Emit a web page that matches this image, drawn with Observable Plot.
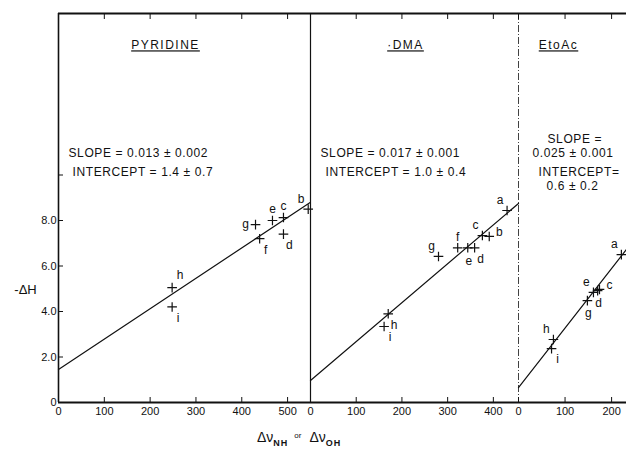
<!DOCTYPE html>
<html><head><meta charset="utf-8">
<script src="https://cdn.jsdelivr.net/npm/d3@7"></script>
<script src="https://cdn.jsdelivr.net/npm/@observablehq/plot@0.6"></script>
<style>
body{margin:0;background:#fff;}
#wrap{position:relative;width:626px;height:455px;overflow:hidden;font-family:"Liberation Sans","DejaVu Sans",sans-serif;color:#111;background:#fff;}
#wrap svg{position:absolute;top:0;}
#xtitle{position:absolute;top:429px;left:257px;font-size:14px;color:#111;white-space:nowrap;}
#xtitle sub{font-size:9px;font-weight:bold;vertical-align:-4px;letter-spacing:1px;}
#xtitle .or{font-size:8px;vertical-align:4px;margin:0 8px 0 6px;}
</style></head><body><div id="wrap"></div>
<script>
// ---- data ----
const panelNames = ["PYRIDINE", "·DMA", "EtoAc"];
const slopeTexts = [["SLOPE = 0.013 ± 0.002"], ["SLOPE = 0.017 ± 0.001"], ["SLOPE =", "0.025 ± 0.001"]];
const interceptTexts = [["INTERCEPT = 1.4 ± 0.7"], ["INTERCEPT = 1.0 ± 0.4"], ["INTERCEPT=", "0.6 ± 0.2"]];

const pyrLabels = ["b", "c", "d", "e", "f", "g", "h", "i"];
const pyrNu     = [545, 491, 491, 467, 439, 430, 248, 248];
const pyrH      = [8.5, 8.13, 7.4, 8.0, 7.2, 7.82, 5.05, 4.2];
const pyrPos    = ["nw", "n", "se", "n", "se", "w", "ne", "se"];
const pyrFitNu  = [0, 550];
const pyrFitH   = [1.45, 8.8];

const dmaLabels = ["a", "b", "c", "d", "e", "f", "g", "h", "i"];
const dmaNu     = [430, 391, 376, 359, 344, 322, 280, 170, 161];
const dmaH      = [8.44, 7.3, 7.34, 6.8, 6.8, 6.8, 6.42, 3.9, 3.34];
const dmaPos    = ["nw", "e", "nw", "se", "s", "n", "nw", "se", "se"];
const dmaFitNu  = [0, 455];
const dmaFitH   = [0.97, 8.75];

const etoLabels = ["a", "c", "d", "e", "g", "h", "i"];
const etoNu     = [221, 174, 170, 161, 148, 75, 71];
const etoH      = [6.5, 4.97, 4.92, 4.84, 4.48, 2.77, 2.37];
const etoPos    = ["nw", "e", "s", "nw", "s", "nw", "se"];
const etoFitNu  = [0, 232];
const etoFitH   = [0.65, 6.73];

const xDomains = [[0, 550], [0, 455], [0, 232]];
const xTicks = [[0, 100, 200, 300, 400, 500], [0, 100, 200, 300, 400], [0, 100, 200]];
const yDomain = [0, 17.1];
const yTicks = [0, 2, 4, 6, 8, 10];
const yTickLabels = ["0", "2.0", "4.0", "6.0", "8.0", ""];

// ---- layout ----
const ink = "#111";
const offsets = {n: [0, -11], s: [1, 13], e: [10, -4], w: [-10, 0], ne: [8, -12], nw: [-7, -10], se: [6, 11]};
const layout = [
  {left: 0, width: 310, marginLeft: 58, title: [107, 32], slope: [[10, 140]], inter: [[14, 159]]},
  {left: 310, width: 208, marginLeft: 0, title: [95, 32], slope: [[10, 140]], inter: [[15, 159]]},
  {left: 518, width: 108, marginLeft: 0, title: [40, 32], slope: [[29, 126], [14, 140]], inter: [[20, 159], [28, 173]]}
];

const sets = [
  {labels: pyrLabels, nu: pyrNu, h: pyrH, pos: pyrPos, fitNu: pyrFitNu, fitH: pyrFitH},
  {labels: dmaLabels, nu: dmaNu, h: dmaH, pos: dmaPos, fitNu: dmaFitNu, fitH: dmaFitH},
  {labels: etoLabels, nu: etoNu, h: etoH, pos: etoPos, fitNu: etoFitNu, fitH: etoFitH}
];

const wrap = document.getElementById("wrap");
const font = "'Liberation Sans','DejaVu Sans',sans-serif";

sets.forEach((s, i) => {
  const L = layout[i];
  const rows = s.labels.map((lab, j) => ({label: lab, nu: s.nu[j], h: s.h[j], pos: s.pos[j]}));
  const fit = s.fitNu.map((x, j) => ({nu: x, h: s.fitH[j]}));
  const marks = [];
  marks.push(Plot.line(fit, {x: "nu", y: "h", stroke: ink, strokeWidth: 1.2}));
  marks.push(Plot.dot(rows, {x: "nu", y: "h", symbol: "plus", r: 3.2, stroke: ink, strokeWidth: 1.2}));
  for (const [k, [dx, dy]] of Object.entries(offsets)) {
    const sub = rows.filter(r => r.pos === k);
    if (sub.length) marks.push(Plot.text(sub, {x: "nu", y: "h", text: "label", dx, dy, fontSize: 12, fill: ink}));
  }
  // panel title and fit annotations
  marks.push(Plot.text([panelNames[i]], {frameAnchor: "top-left", textAnchor: "middle", lineAnchor: "middle", dx: L.title[0], dy: L.title[1], fontSize: 12, fill: ink}));
  slopeTexts[i].forEach((t, j) => marks.push(Plot.text([t], {frameAnchor: "top-left", textAnchor: "start", lineAnchor: "middle", dx: L.slope[j][0], dy: L.slope[j][1], fontSize: 12, fill: ink})));
  interceptTexts[i].forEach((t, j) => marks.push(Plot.text([t], {frameAnchor: "top-left", textAnchor: "start", lineAnchor: "middle", dx: L.inter[j][0], dy: L.inter[j][1], fontSize: 12, fill: ink})));
  // frame lines
  marks.push(Plot.ruleY([yDomain[0]], {stroke: ink, strokeWidth: 2}));
  marks.push(Plot.ruleY([yDomain[1]], {stroke: ink, strokeWidth: 2}));
  if (i < 2) marks.push(Plot.ruleX([xDomains[i][0]], {stroke: ink, strokeWidth: i === 0 ? 1.6 : 1.2}));
  else marks.push(Plot.ruleX([xDomains[i][0]], {stroke: ink, strokeWidth: 1, strokeDasharray: "7,2,1,2", strokeOpacity: 0.8}));
  // axes
  if (i === 0) {
    marks.push(Plot.axisY(yTicks, {tickSize: 0, tickPadding: 2, tickFormat: (d) => yTickLabels[yTicks.indexOf(d)], label: null, fontSize: 11, fill: ink}));
    marks.push(Plot.axisY(yTicks, {tickSize: 5, dx: 5, fill: "none", stroke: ink, label: null}));
    marks.push(Plot.text(["-ΔH"], {frameAnchor: "bottom-left", textAnchor: "middle", lineAnchor: "middle", dx: -33, dy: -113, fontSize: 13, fill: ink}));
  }
  marks.push(Plot.axisX(xTicks[i], {tickSize: 0, tickPadding: 5, tickFormat: d => String(d), label: null, fontSize: 11, fill: ink}));
  marks.push(Plot.axisX(xTicks[i], {tickSize: 5, dy: -5, fill: "none", stroke: ink, label: null}));
  marks.push(Plot.axisX(xTicks[i], {anchor: "top", tickSize: 5, dy: 5, fill: "none", stroke: ink, label: null}));

  const svg = Plot.plot({
    width: L.width, height: 425,
    marginLeft: L.marginLeft, marginRight: 0, marginTop: 13, marginBottom: 23,
    x: {domain: xDomains[i]},
    y: {domain: yDomain, axis: i === 0 ? undefined : null},
    style: {background: "transparent", overflow: "visible", fontFamily: font, fontSize: "11px", color: ink},
    marks
  });
  svg.style.left = L.left + "px";
  svg.style.overflow = "visible";
  // underline panel titles, loosen lettering
  d3.select(svg).selectAll("text").each(function () {
    const t = this.textContent;
    if (panelNames.includes(t)) { this.style.textDecoration = "underline"; this.style.letterSpacing = "1.5px"; }
    else if (/SLOPE|INTERCEPT|±/.test(t)) this.style.letterSpacing = "0.6px";
  });
  wrap.appendChild(svg);
});

const xt = document.createElement("div");
xt.id = "xtitle";
xt.innerHTML = "Δν<sub>NH</sub><span class='or'>or</span>Δν<sub>OH</sub>";
wrap.appendChild(xt);
</script></body></html>
